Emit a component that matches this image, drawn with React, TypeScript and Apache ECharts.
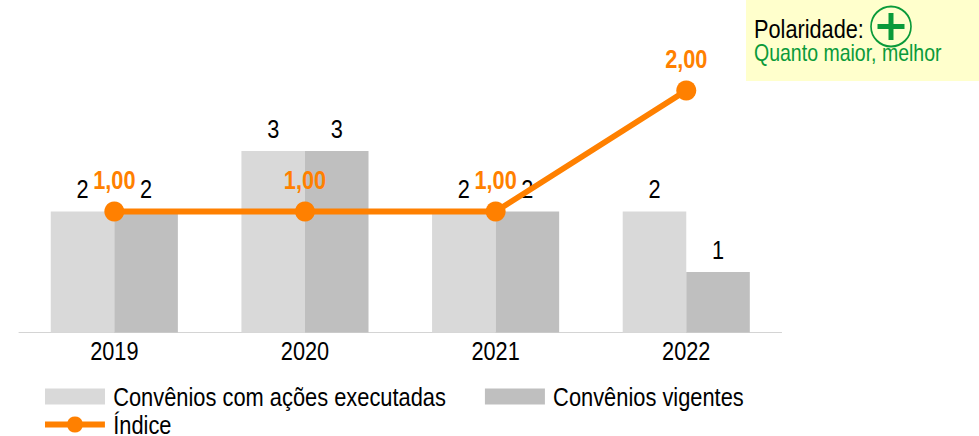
import React, { useEffect, useRef } from "react";
import * as echarts from "echarts";

const categories = ["2019", "2020", "2021", "2022"];
const executadas = [2, 3, 2, 2];
const vigentes = [2, 3, 2, 1];
const indice = [1, 1, 1, 2];
const nameA = "Convênios com ações executadas";
const nameB = "Convênios vigentes";
const nameC = "Índice";
const FONT = "'Liberation Sans', sans-serif";
const ORANGE = "#ff8000";
const GREEN = "#0a9a3a";
// The reference text is condensed; no narrow face is installed, so the chart is drawn wider and squeezed.
const SX = 0.82;
const X = (v: number) => v / SX;
const LINE_ICON = `path://M0 5H${X(22.58)}A${X(8)} 8 0 0 1 ${X(37.42)} 5H${X(60)}V11H${X(37.42)}A${X(8)} 8 0 0 1 ${X(22.58)} 11H0Z`;

export default function App() {
  const ref = useRef<HTMLDivElement>(null);
  useEffect(() => {
    document.body.style.margin = "0";
    const chart = echarts.init(ref.current!, null, { renderer: "svg" });
    const barLabel = { show: true, position: "top", distance: 9, color: "#000", fontFamily: FONT, fontSize: 26.5 };
    const legendText = { color: "#000", fontFamily: FONT, fontSize: 26.65, padding: [0, 0, 0, 5] };
    chart.setOption({
      animation: false,
      textStyle: { fontFamily: FONT },
      grid: { left: X(19), right: X(197.5), top: 30, height: 302.5, containLabel: false },
      xAxis: {
        type: "category",
        data: categories,
        axisLine: { lineStyle: { color: "#d0d0d0", width: 1 } },
        axisTick: { show: false },
        axisLabel: { color: "#000", fontFamily: FONT, fontSize: 26.5, margin: 5 },
      },
      yAxis: [
        { type: "value", min: 0, max: 5, show: false },
        { type: "value", min: 0, max: 2.5, show: false },
      ],
      legend: [
        {
          left: X(45), top: 383, itemWidth: X(60), itemHeight: 16, itemGap: X(39),
          data: [nameA, nameB], icon: "rect",
          textStyle: legendText,
          selectedMode: false, padding: 0,
        },
        {
          left: X(45), top: 411, itemWidth: X(60), itemHeight: 16,
          data: [nameC], icon: LINE_ICON,
          textStyle: legendText,
          selectedMode: false, padding: 0,
        },
      ],
      series: [
        { name: nameA, type: "bar", data: executadas, barGap: 0, barCategoryGap: "33.33%", itemStyle: { color: "#d9d9d9" }, label: barLabel },
        { name: nameB, type: "bar", data: vigentes, itemStyle: { color: "#bfbfbf" }, label: barLabel },
        {
          name: nameC, type: "line", yAxisIndex: 1, data: indice, symbol: "circle", symbolSize: [X(20), 20],
          lineStyle: { color: ORANGE, width: 6 }, itemStyle: { color: ORANGE },
          label: {
            show: true, position: "top", distance: 8, color: ORANGE, fontFamily: FONT, fontSize: 26.5, fontWeight: "bold",
            formatter: (p: any) => Number(p.value).toFixed(2).replace(".", ","),
          },
          z: 5,
        },
      ],
      graphic: [
        { type: "rect", shape: { x: X(746), y: 0, width: X(233), height: 81 }, style: { fill: "#ffffcc" }, z: 10 },
        { type: "ellipse", shape: { cx: X(891), cy: 26.5, rx: X(20), ry: 20 }, style: { fill: "none", stroke: GREEN, lineWidth: 2 }, z: 11 },
        { type: "rect", shape: { x: X(877.5), y: 24, width: X(27), height: 5 }, style: { fill: GREEN }, z: 11 },
        { type: "rect", shape: { x: X(888.5), y: 13, width: X(5), height: 27 }, style: { fill: GREEN }, z: 11 },
        { type: "text", x: X(754), y: 29, style: { text: "Polaridade:", fill: "#000", font: `26.5px ${FONT}`, verticalAlign: "middle" }, z: 12 },
        { type: "text", x: X(754), y: 53, style: { text: "Quanto maior, melhor", fill: GREEN, font: `23.8px ${FONT}`, verticalAlign: "middle" }, z: 12 },
      ],
    });
    return () => chart.dispose();
  }, []);
  return (
    <div style={{ width: 979, height: 436, overflow: "hidden" }}>
      <div ref={ref} style={{ width: X(979), height: 436, transform: `scaleX(${SX})`, transformOrigin: "0 0" }} />
    </div>
  );
}
